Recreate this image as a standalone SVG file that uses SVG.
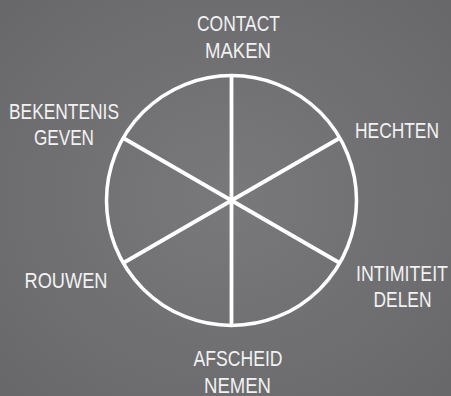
<svg xmlns="http://www.w3.org/2000/svg" width="451" height="396" viewBox="0 0 451 396">
<defs>
<radialGradient id="bg" cx="50%" cy="50%" r="70%">
<stop offset="0" stop-color="#79797c"/>
<stop offset="1" stop-color="#68686b"/>
</radialGradient>
<style>
.lbl{font-family:"Liberation Sans",Arial,sans-serif;font-size:22px;fill:#f2f2f2;text-anchor:middle}
.ring{fill:none;stroke:#ffffff;stroke-width:3.5}
.spoke{stroke:#ffffff;stroke-width:3.8;stroke-linecap:butt}
</style>
</defs>
<rect width="451" height="396" fill="url(#bg)"/>
<g id="wheel">
<circle class="ring" cx="231.5" cy="200.5" r="125"/>
</g>
<g id="connectors">
<line class="spoke" x1="231.5" y1="75.5" x2="231.5" y2="325.5"/>
<line class="spoke" x1="123.25" y1="138" x2="339.75" y2="263"/>
<line class="spoke" x1="123.25" y1="263" x2="339.75" y2="138"/>
</g>
<g id="contact-maken">
<text class="lbl" x="238.5" y="31" textLength="83" lengthAdjust="spacingAndGlyphs">CONTACT</text>
<text class="lbl" x="238" y="58" textLength="66" lengthAdjust="spacingAndGlyphs">MAKEN</text>
</g>
<g id="hechten">
<text class="lbl" x="397" y="138" textLength="84" lengthAdjust="spacingAndGlyphs">HECHTEN</text>
</g>
<g id="intimiteit-delen">
<text class="lbl" x="402" y="281" textLength="92" lengthAdjust="spacingAndGlyphs">INTIMITEIT</text>
<text class="lbl" x="402.5" y="307" textLength="58" lengthAdjust="spacingAndGlyphs">DELEN</text>
</g>
<g id="afscheid-nemen">
<text class="lbl" x="238" y="366" textLength="89" lengthAdjust="spacingAndGlyphs">AFSCHEID</text>
<text class="lbl" x="237.5" y="392.5" textLength="67" lengthAdjust="spacingAndGlyphs">NEMEN</text>
</g>
<g id="rouwen">
<text class="lbl" x="66" y="288" textLength="83" lengthAdjust="spacingAndGlyphs">ROUWEN</text>
</g>
<g id="bekentenis-geven">
<text class="lbl" x="64" y="118.5" textLength="110" lengthAdjust="spacingAndGlyphs">BEKENTENIS</text>
<text class="lbl" x="64" y="144.5" textLength="60" lengthAdjust="spacingAndGlyphs">GEVEN</text>
</g>
</svg>
